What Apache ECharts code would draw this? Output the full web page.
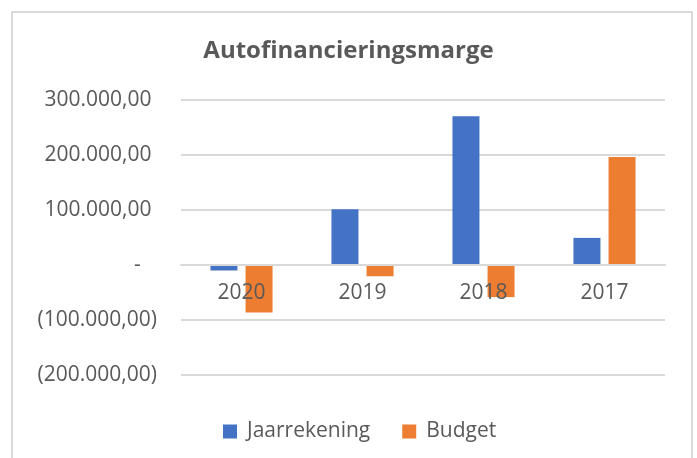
<!DOCTYPE html>
<html>
<head>
<meta charset="utf-8">
<script src="https://cdn.jsdelivr.net/npm/echarts@6/dist/echarts.min.js"></script>
<style>html,body{margin:0;padding:0;background:#fff;}#c{width:697px;height:458px;}</style>
</head>
<body>
<div id="c"></div>
<script>
var categories = ['2020', '2019', '2018', '2017'];
var jaarrekening = [-10000, 101500, 270500, 49300];
var budget = [-86500, -20500, -58400, 196500];
var seriesNames = ['Jaarrekening', 'Budget'];
var titleText = 'Autofinancieringsmarge';

function fmt(v) {
  if (v === 0) return '-   ';
  var a = Math.abs(v);
  var s = String(Math.round(a)).replace(/\B(?=(\d{3})+(?!\d))/g, '.') + ',00';
  return v < 0 ? '(' + s + ')' : s + ' ';
}

var FONT = 'Open Sans';
var chart = echarts.init(document.getElementById('c'), null, {renderer: 'canvas'});
chart.setOption({
  animation: false,
  backgroundColor: '#fff',
  graphic: [{
    type: 'rect', shape: {x: 12, y: 12, width: 680, height: 470},
    style: {fill: 'none', stroke: '#d9d9d9', lineWidth: 2}, silent: true
  }],
  title: {
    text: titleText, left: 'center', top: 34,
    textStyle: {fontFamily: FONT, fontWeight: 'bold', fontSize: 24, color: '#595959'}
  },
  legend: {
    data: seriesNames, left: 218, top: 416, icon: 'rect',
    itemWidth: 14, itemHeight: 14, itemGap: 32,
    textStyle: {fontFamily: FONT, fontSize: 21, color: '#595959', padding: [0, 0, 0, 5]}
  },
  grid: {left: 181, right: 32, top: 100, bottom: 83, containLabel: false},
  xAxis: {
    type: 'category', data: categories, z: 3, position: 'bottom', offset: -110,
    axisLine: {onZero: false, lineStyle: {color: '#d9d9d9', width: 2}},
    axisTick: {show: false},
    axisLabel: {fontFamily: FONT, fontSize: 21, color: '#595959', margin: 18}
  },
  yAxis: {
    type: 'value', min: -200000, max: 300000, interval: 100000,
    axisLine: {show: false}, axisTick: {show: false},
    splitLine: {lineStyle: {color: '#d9d9d9', width: 2}},
    axisLabel: {fontFamily: FONT, fontSize: 21, color: '#595959', margin: 24, formatter: fmt}
  },
  series: [
    {name: seriesNames[0], type: 'bar', data: jaarrekening, barWidth: 27, barGap: '30%',
     itemStyle: {color: '#4472C4'}},
    {name: seriesNames[1], type: 'bar', data: budget, barWidth: 27, barGap: '30%',
     itemStyle: {color: '#ED7D31'}}
  ]
});
</script>
</body>
</html>
